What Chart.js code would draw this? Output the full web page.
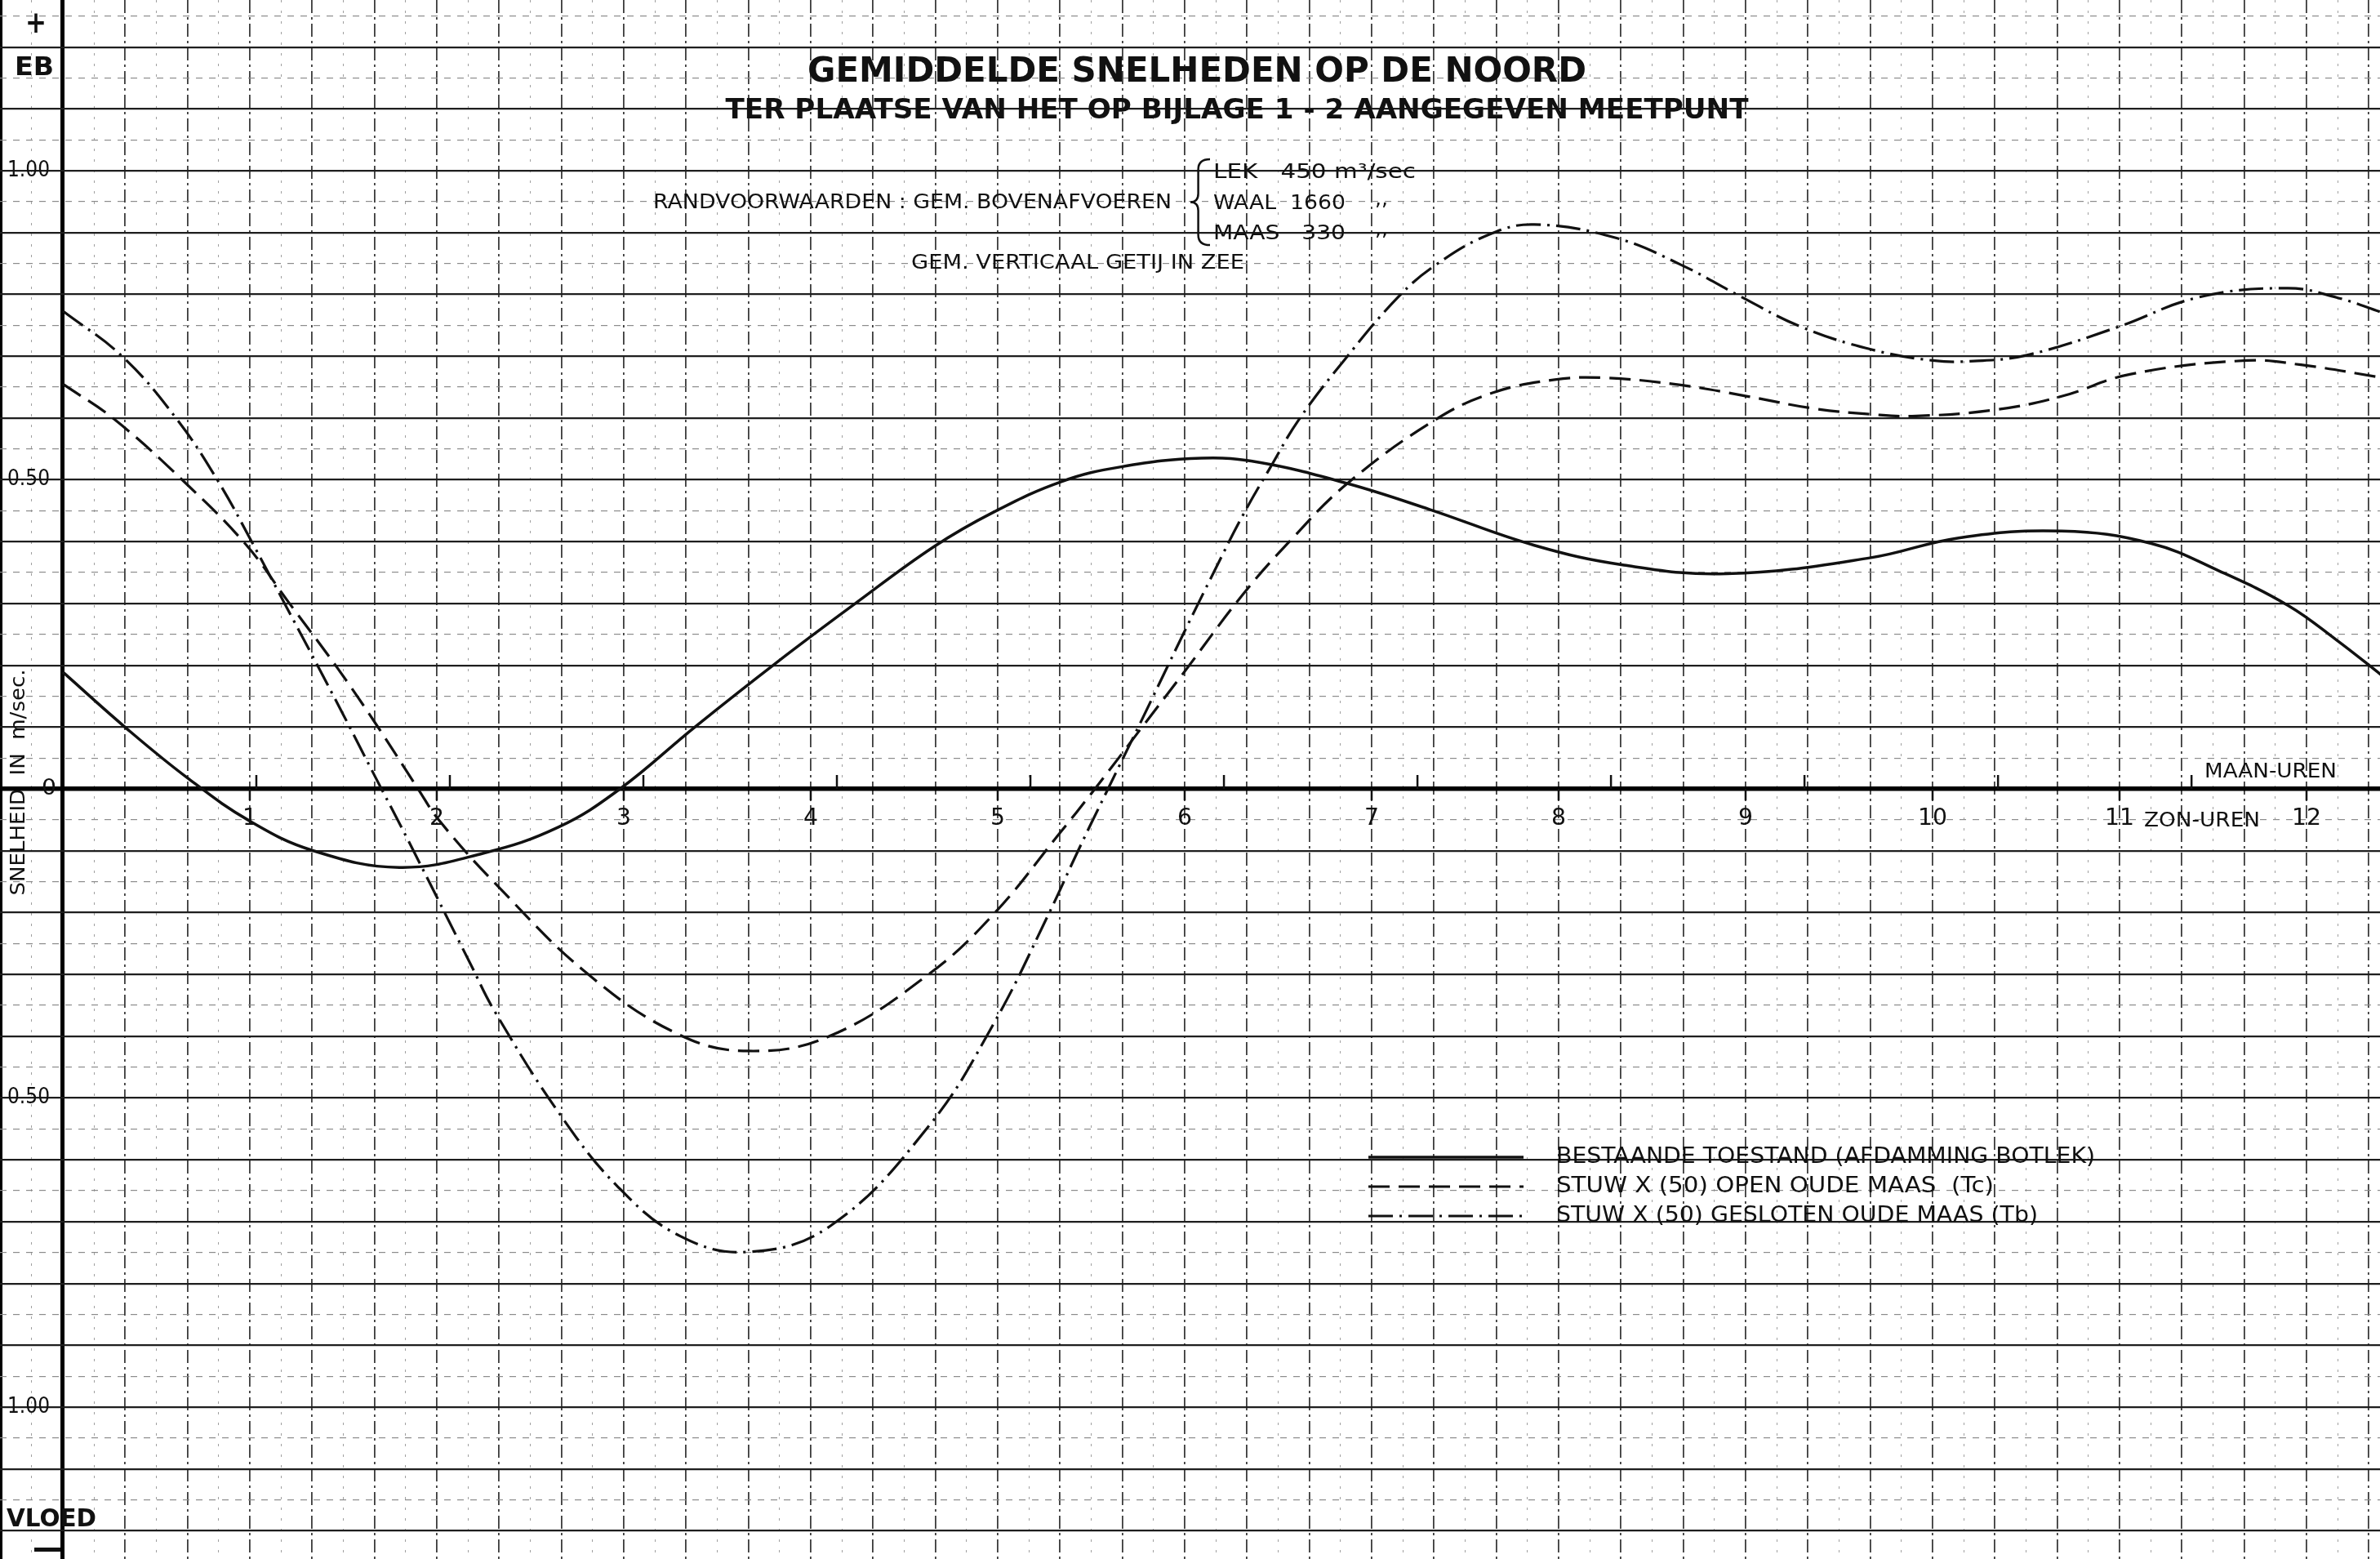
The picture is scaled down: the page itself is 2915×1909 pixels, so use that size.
<!DOCTYPE html>
<html>
<head>
<meta charset="utf-8">
<title>Gemiddelde snelheden op de Noord</title>
<script src="https://cdn.jsdelivr.net/npm/chart.js@4.4.1/dist/chart.umd.min.js"></script>
<style>
  html, body { margin: 0; padding: 0; background: #fff; }
  #wrap { position: relative; width: 2915px; height: 1909px; }
</style>
</head>
<body>
<div id="wrap"><canvas id="chart"></canvas></div>
<script>
// time in zon-uren, speed in m/sec (+ = eb, - = vloed)
const bestaandHours = [0, 0.34, 0.67, 1.0, 1.34, 1.8, 2.25, 2.65, 2.98, 3.38, 3.82, 4.23, 4.66, 4.98, 5.34, 5.66, 6.09, 6.4, 6.87, 7.31, 7.87, 8.35, 8.9, 9.67, 10.14, 10.69, 11.17, 11.53, 11.9, 12.16, 12.41];
const bestaandSpeeds = [0.189, 0.098, 0.017, -0.052, -0.100, -0.127, -0.104, -0.062, 0, 0.10, 0.205, 0.298, 0.392, 0.448, 0.497, 0.521, 0.535, 0.528, 0.494, 0.452, 0.394, 0.362, 0.348, 0.374, 0.406, 0.417, 0.397, 0.353, 0.297, 0.241, 0.182];

const openHours = [0, 0.275, 0.645, 0.98, 1.2, 1.47, 1.67, 1.9, 2.01, 2.31, 2.81, 3.3, 3.67, 4.1, 4.63, 4.98, 5.32, 5.52, 5.77, 5.99, 6.31, 6.56, 6.87, 7.34, 7.65, 7.98, 8.24, 8.66, 9.01, 9.37, 9.67, 9.89, 10.33, 10.69, 11.06, 11.68, 11.97, 12.41];
const openSpeeds = [0.655, 0.598, 0.498, 0.395, 0.305, 0.195, 0.107, 0, -0.05, -0.152, -0.30, -0.398, -0.424, -0.40, -0.30, -0.202, -0.076, 0, 0.099, 0.186, 0.314, 0.40, 0.494, 0.597, 0.641, 0.662, 0.665, 0.653, 0.635, 0.615, 0.606, 0.603, 0.613, 0.635, 0.671, 0.693, 0.686, 0.665];

const geslotenHours = [0, 0.32, 0.61, 0.83, 1.01, 1.2, 1.33, 1.5, 1.67, 1.85, 2.18, 2.31, 2.66, 2.97, 3.3, 3.66, 4.1, 4.63, 4.98, 5.27, 5.43, 5.59, 5.76, 5.99, 6.16, 6.31, 6.46, 6.61, 6.86, 7.14, 7.34, 7.63, 7.87, 8.31, 8.66, 8.97, 9.3, 9.67, 10.0, 10.22, 10.51, 10.99, 11.42, 11.9, 12.16, 12.41];
const geslotenSpeeds = [0.773, 0.699, 0.598, 0.498, 0.40, 0.292, 0.218, 0.12, 0.02, -0.085, -0.283, -0.36, -0.527, -0.644, -0.723, -0.749, -0.708, -0.546, -0.379, -0.204, -0.10, 0, 0.105, 0.249, 0.353, 0.442, 0.521, 0.597, 0.696, 0.795, 0.847, 0.897, 0.913, 0.891, 0.847, 0.797, 0.747, 0.711, 0.693, 0.692, 0.702, 0.747, 0.795, 0.81, 0.795, 0.77];

const seriesNames = [
  'BESTAANDE TOESTAND (AFDAMMING BOTLEK)',
  'STUW X (50) OPEN OUDE MAAS  (Tc)',
  'STUW X (50) GESLOTEN OUDE MAAS (Tb)'
];
const hourLabels = ['1', '2', '3', '4', '5', '6', '7', '8', '9', '10', '11', '12'];
const speedTicks = [1, 0.5, 0, -0.5, -1];
const speedTickLabels = ['1.00', '0.50', '0', '0.50', '1.00'];
const maanUren = [1, 2, 3, 4, 5, 6, 7, 8, 9, 10, 11];
const MAAN_UUR = 1.035; // one lunar hour expressed in solar hours

const X_MIN = -0.336, X_MAX = 12.393;
const Y_MIN = -1.2457, Y_MAX = 1.2761;
const FONT = "'DejaVu Sans', 'Liberation Sans', sans-serif";

// graph-paper lines: every 1/6 hour and every 0.05 m/sec
const xGrid = [];
for (let k = -2; k <= 74; k++) xGrid.push(k / 6);
const yGrid = [];
for (let k = -24; k <= 25; k++) yGrid.push(k / 20);

const toPoints = (xs, ys) => xs.map((x, i) => ({ x: x, y: ys[i] }));

// draw text squeezed/stretched to a given width
function fitText(ctx, text, x, y, w, font, align) {
  ctx.save();
  ctx.font = font;
  const m = ctx.measureText(text).width;
  ctx.translate(x, y);
  ctx.scale(w / m, 1);
  ctx.textAlign = align || 'left';
  ctx.textBaseline = 'middle';
  ctx.fillText(text, 0, 0);
  ctx.restore();
}

function brace(ctx, x, top, bottom, w) {
  const mid = (top + bottom) / 2, h = bottom - top, s = x + w * 0.4;
  ctx.beginPath();
  ctx.moveTo(x + w, top);
  ctx.quadraticCurveTo(s, top, s, top + h * 0.12);
  ctx.lineTo(s, mid - h * 0.1);
  ctx.quadraticCurveTo(s, mid, x, mid);
  ctx.quadraticCurveTo(s, mid, s, mid + h * 0.1);
  ctx.lineTo(s, bottom - h * 0.12);
  ctx.quadraticCurveTo(s, bottom, x + w, bottom);
  ctx.stroke();
}

const paperText = {
  id: 'paperText',
  afterDraw(chart) {
    const ctx = chart.ctx;
    const xs = chart.scales.x, ys = chart.scales.y;
    const y0 = ys.getPixelForValue(0);
    ctx.save();
    ctx.fillStyle = '#111';
    ctx.strokeStyle = '#111';

    // hour ticks: zon-uren below the axis, maan-uren above
    ctx.lineWidth = 2.5;
    hourLabels.forEach((t, i) => {
      const px = xs.getPixelForValue(i + 1);
      ctx.beginPath(); ctx.moveTo(px, y0); ctx.lineTo(px, y0 + 14); ctx.stroke();
      fitText(ctx, t, px, y0 + 37, t.length * 18, '28px ' + FONT, 'center');
    });
    maanUren.forEach(h => {
      const px = xs.getPixelForValue(h * MAAN_UUR);
      ctx.beginPath(); ctx.moveTo(px, y0); ctx.lineTo(px, y0 - 17); ctx.stroke();
    });
    fitText(ctx, 'MAAN-UREN', 2700, 945, 162, '25px ' + FONT);
    fitText(ctx, 'ZON-UREN', 2626, 1005, 142, '25px ' + FONT);

    // speed labels left of the axis
    speedTicks.forEach((v, i) => {
      const py = ys.getPixelForValue(v);
      const t = speedTickLabels[i];
      if (t === '0') fitText(ctx, t, 60, py, 18, '27px ' + FONT, 'center');
      else fitText(ctx, t, 35, py, 52, '26px ' + FONT, 'center');
    });
    fitText(ctx, '+', 44, 30, 26, 'bold 38px ' + FONT, 'center');
    fitText(ctx, 'EB', 42, 84, 48, 'bold 32px ' + FONT, 'center');
    fitText(ctx, 'VLOED', 63, 1861, 110, 'bold 30px ' + FONT, 'center');
    ctx.fillRect(42, 1895, 32, 5);

    ctx.save();
    ctx.translate(24, 958);
    ctx.rotate(-Math.PI / 2);
    fitText(ctx, 'SNELHEID  IN  m/sec.', 0, 0, 277, '24px ' + FONT, 'center');
    ctx.restore();

    // titles and boundary conditions
    fitText(ctx, 'GEMIDDELDE SNELHEDEN OP DE NOORD', 1466, 89, 954, 'bold 42px ' + FONT, 'center');
    fitText(ctx, 'TER PLAATSE VAN HET OP BIJLAGE 1 - 2 AANGEGEVEN MEETPUNT', 1515, 136, 1253, 'bold 33px ' + FONT, 'center');
    fitText(ctx, 'RANDVOORWAARDEN : GEM. BOVENAFVOEREN', 800, 248, 635, '25px ' + FONT);
    ctx.lineWidth = 2.5;
    brace(ctx, 1458, 195, 300, 24);
    fitText(ctx, 'LEK   450 m³/sec', 1486, 211, 248, '25px ' + FONT);
    fitText(ctx, 'WAAL  1660', 1486, 249, 162, '25px ' + FONT);
    fitText(ctx, 'MAAS   330', 1486, 286, 162, '25px ' + FONT);
    fitText(ctx, ',,', 1684, 244, 16, '25px ' + FONT);
    fitText(ctx, ',,', 1684, 281, 16, '25px ' + FONT);
    fitText(ctx, 'GEM. VERTICAAL GETIJ IN ZEE', 1116, 322, 408, '25px ' + FONT);

    // legend
    const rows = [1417, 1453, 1489];
    const widths = [660, 536, 590];
    chart.data.datasets.forEach((ds, i) => {
      ctx.save();
      ctx.lineWidth = ds.borderWidth;
      ctx.setLineDash(ds.borderDash || []);
      ctx.beginPath(); ctx.moveTo(1676, rows[i]); ctx.lineTo(1866, rows[i]); ctx.stroke();
      ctx.restore();
      fitText(ctx, seriesNames[i], 1906, rows[i], widths[i], '26px ' + FONT);
    });
    ctx.restore();
  }
};

new Chart(document.getElementById('chart'), {
  type: 'line',
  data: {
    datasets: [
      { label: seriesNames[0], data: toPoints(bestaandHours, bestaandSpeeds), borderColor: '#111', borderWidth: 3.5, borderDash: [] },
      { label: seriesNames[1], data: toPoints(openHours, openSpeeds), borderColor: '#111', borderWidth: 3.2, borderDash: [26, 11] },
      { label: seriesNames[2], data: toPoints(geslotenHours, geslotenSpeeds), borderColor: '#111', borderWidth: 3.2, borderDash: [30, 8, 3, 8] }
    ]
  },
  options: {
    responsive: true,
    maintainAspectRatio: false,
    animation: false,
    layout: { padding: 0 },
    elements: {
      point: { radius: 0 },
      line: { fill: false, tension: 0.4 }
    },
    plugins: { legend: { display: false }, tooltip: { enabled: false } },
    scales: {
      x: {
        type: 'linear', min: X_MIN, max: X_MAX,
        afterBuildTicks: (scale) => { scale.ticks = xGrid.map(v => ({ value: v })); },
        ticks: { display: false },
        border: {
          display: false,
          dash: (c) => {
            const k = Math.round(c.tick.value * 6);
            if (k === 0 || k === -2) return [];
            return k % 2 === 0 ? [16, 5, 3, 5] : [3, 10];
          }
        },
        grid: {
          drawTicks: false,
          color: (c) => {
            const k = Math.round(c.tick.value * 6);
            if (k === 0 || k === -2) return '#000';
            return k % 2 === 0 ? '#3c3c3c' : '#a0a0a0';
          },
          lineWidth: (c) => {
            const k = Math.round(c.tick.value * 6);
            if (k === 0) return 5;
            if (k === -2) return 4;
            return k % 2 === 0 ? 1.8 : 1;
          }
        }
      },
      y: {
        type: 'linear', min: Y_MIN, max: Y_MAX,
        afterBuildTicks: (scale) => { scale.ticks = yGrid.map(v => ({ value: v })); },
        ticks: { display: false },
        border: {
          display: false,
          dash: (c) => {
            const k = Math.round(c.tick.value * 20);
            return k % 2 === 0 ? [] : [8, 8];
          }
        },
        grid: {
          drawTicks: false,
          color: (c) => {
            const k = Math.round(c.tick.value * 20);
            if (k === 0) return '#000';
            return k % 2 === 0 ? '#1e1e1e' : '#8c8c8c';
          },
          lineWidth: (c) => {
            const k = Math.round(c.tick.value * 20);
            if (k === 0) return 5.5;
            return k % 2 === 0 ? 2.2 : 1.2;
          }
        }
      }
    }
  },
  plugins: [paperText]
});
</script>
</body>
</html>
